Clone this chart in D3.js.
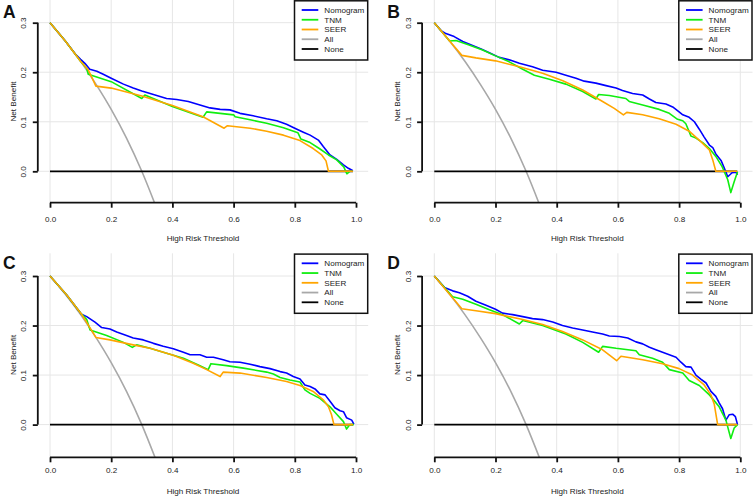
<!DOCTYPE html>
<html><head><meta charset="utf-8">
<script src="https://cdn.jsdelivr.net/npm/d3@7"></script>
<style>
html,body{margin:0;padding:0;background:#fff;}
svg{display:block;font-family:"Liberation Sans",Arial,Helvetica,sans-serif;}
</style></head>
<body><svg id="chart" width="753" height="496"></svg>
<script>
// ---------- data (threshold, net benefit) ----------
const panelLabels = ["A","B","C","D"];
const seriesNames = ["Nomogram","TNM","SEER","All","None"];
const xTicks = [0,0.2,0.4,0.6,0.8,1.0];
const yTicks = [0,0.1,0.2,0.3];

const allCurve = [[0,0.3],[0.05,0.263],[0.1,0.222],[0.15,0.176],[0.2,0.125],[0.25,0.067],[0.3,0.0],[0.35,-0.077]];
const noneCurve = [[0,0],[0.99,0]];

const nomoA = [[0,0.3],[0.05,0.263],[0.085,0.235],[0.1,0.226],[0.114,0.218],[0.13,0.206],[0.153,0.202],[0.174,0.196],[0.2,0.188],[0.24,0.176],[0.272,0.168],[0.3,0.162],[0.338,0.155],[0.381,0.147],[0.414,0.145],[0.452,0.141],[0.49,0.134],[0.523,0.128],[0.556,0.125],[0.588,0.124],[0.621,0.117],[0.664,0.112],[0.708,0.106],[0.741,0.102],[0.773,0.095],[0.8,0.087],[0.828,0.079],[0.85,0.073],[0.877,0.063],[0.893,0.05],[0.915,0.033],[0.937,0.024],[0.959,0.013],[0.975,0.006],[0.99,0.001]];
const tnmA = [[0,0.3],[0.05,0.263],[0.1,0.222],[0.12,0.208],[0.125,0.196],[0.2,0.181],[0.3,0.147],[0.31,0.154],[0.4,0.131],[0.5,0.109],[0.512,0.12],[0.6,0.114],[0.605,0.11],[0.654,0.104],[0.708,0.097],[0.763,0.088],[0.81,0.078],[0.82,0.065],[0.85,0.058],[0.88,0.046],[0.91,0.033],[0.937,0.023],[0.96,0.009],[0.97,-0.005],[0.98,0],[0.99,0]];
const seerA = [[0,0.3],[0.05,0.263],[0.1,0.222],[0.125,0.205],[0.15,0.172],[0.2,0.168],[0.3,0.152],[0.4,0.133],[0.5,0.11],[0.569,0.087],[0.58,0.092],[0.654,0.087],[0.708,0.081],[0.763,0.073],[0.817,0.062],[0.86,0.046],[0.888,0.033],[0.902,0.021],[0.91,0],[0.99,0]];

const nomoB = [[0,0.3],[0.022,0.284],[0.038,0.278],[0.065,0.272],[0.093,0.262],[0.125,0.254],[0.153,0.247],[0.185,0.238],[0.212,0.23],[0.245,0.225],[0.278,0.218],[0.321,0.211],[0.354,0.204],[0.398,0.2],[0.43,0.194],[0.463,0.188],[0.49,0.182],[0.528,0.178],[0.561,0.173],[0.594,0.168],[0.615,0.163],[0.648,0.157],[0.681,0.154],[0.703,0.146],[0.724,0.139],[0.757,0.136],[0.779,0.13],[0.8,0.12],[0.812,0.114],[0.833,0.109],[0.85,0.1],[0.866,0.085],[0.882,0.069],[0.899,0.053],[0.91,0.048],[0.92,0.035],[0.937,0.022],[0.948,0.006],[0.959,-0.011],[0.973,-0.003],[0.986,-0.002],[0.991,-0.007]];
const tnmB = [[0,0.3],[0.05,0.263],[0.071,0.264],[0.109,0.256],[0.158,0.245],[0.2,0.233],[0.245,0.221],[0.289,0.206],[0.327,0.194],[0.376,0.186],[0.43,0.176],[0.485,0.161],[0.528,0.146],[0.537,0.155],[0.572,0.153],[0.626,0.147],[0.637,0.141],[0.681,0.134],[0.735,0.125],[0.768,0.117],[0.795,0.105],[0.812,0.102],[0.822,0.096],[0.839,0.071],[0.855,0.067],[0.877,0.058],[0.899,0.046],[0.92,0.03],[0.941,0.009],[0.959,-0.017],[0.969,-0.043],[0.98,-0.021],[0.991,-0.001]];
const seerB = [[0,0.3],[0.05,0.263],[0.09,0.234],[0.136,0.229],[0.2,0.223],[0.278,0.211],[0.354,0.198],[0.42,0.183],[0.485,0.164],[0.55,0.141],[0.588,0.127],[0.618,0.114],[0.629,0.119],[0.681,0.114],[0.735,0.106],[0.79,0.095],[0.833,0.081],[0.871,0.06],[0.899,0.043],[0.91,0.023],[0.92,0],[0.99,0]];

const nomoC = [[0,0.3],[0.054,0.262],[0.103,0.223],[0.12,0.218],[0.147,0.207],[0.169,0.196],[0.196,0.193],[0.218,0.187],[0.25,0.18],[0.272,0.175],[0.305,0.171],[0.338,0.164],[0.37,0.158],[0.403,0.153],[0.436,0.146],[0.458,0.141],[0.49,0.141],[0.512,0.136],[0.534,0.136],[0.566,0.131],[0.588,0.127],[0.621,0.126],[0.654,0.122],[0.686,0.117],[0.719,0.113],[0.752,0.107],[0.773,0.104],[0.795,0.097],[0.817,0.092],[0.833,0.08],[0.85,0.077],[0.866,0.072],[0.882,0.062],[0.899,0.06],[0.915,0.047],[0.931,0.034],[0.948,0.028],[0.959,0.026],[0.969,0.014],[0.986,0.009],[0.993,0.001]];
const tnmC = [[0,0.3],[0.054,0.262],[0.103,0.223],[0.12,0.212],[0.131,0.191],[0.185,0.18],[0.24,0.166],[0.269,0.156],[0.283,0.161],[0.327,0.154],[0.381,0.144],[0.436,0.134],[0.49,0.119],[0.517,0.111],[0.526,0.123],[0.577,0.119],[0.632,0.114],[0.708,0.106],[0.73,0.102],[0.752,0.095],[0.784,0.09],[0.817,0.086],[0.833,0.07],[0.85,0.063],[0.882,0.053],[0.915,0.036],[0.937,0.021],[0.959,0.006],[0.969,-0.009],[0.98,0],[0.993,0]];
const seerC = [[0,0.3],[0.054,0.262],[0.103,0.223],[0.15,0.176],[0.196,0.171],[0.272,0.161],[0.327,0.154],[0.403,0.14],[0.468,0.124],[0.512,0.111],[0.556,0.097],[0.566,0.106],[0.621,0.104],[0.708,0.095],[0.773,0.087],[0.817,0.079],[0.86,0.067],[0.893,0.05],[0.91,0.036],[0.92,0.02],[0.928,0],[0.99,0]];

const nomoD = [[0,0.3],[0.033,0.277],[0.06,0.27],[0.082,0.266],[0.109,0.259],[0.136,0.249],[0.169,0.241],[0.2,0.233],[0.223,0.225],[0.256,0.222],[0.289,0.218],[0.321,0.214],[0.354,0.212],[0.387,0.207],[0.419,0.2],[0.452,0.195],[0.485,0.191],[0.517,0.187],[0.55,0.183],[0.572,0.179],[0.605,0.178],[0.632,0.175],[0.659,0.167],[0.681,0.163],[0.703,0.156],[0.724,0.151],[0.746,0.146],[0.768,0.141],[0.79,0.136],[0.806,0.126],[0.822,0.117],[0.839,0.116],[0.855,0.1],[0.871,0.092],[0.888,0.084],[0.904,0.067],[0.92,0.057],[0.931,0.044],[0.942,0.032],[0.953,0.009],[0.964,0.02],[0.975,0.021],[0.984,0.016],[0.991,0]];
const tnmD = [[0,0.3],[0.06,0.258],[0.093,0.253],[0.136,0.243],[0.18,0.232],[0.223,0.222],[0.278,0.203],[0.289,0.21],[0.354,0.2],[0.43,0.183],[0.485,0.166],[0.537,0.146],[0.55,0.158],[0.594,0.154],[0.659,0.149],[0.67,0.141],[0.713,0.134],[0.746,0.126],[0.768,0.111],[0.812,0.104],[0.833,0.089],[0.866,0.079],[0.899,0.06],[0.931,0.036],[0.953,0.009],[0.969,-0.028],[0.98,-0.007],[0.991,0]];
const seerD = [[0,0.3],[0.05,0.263],[0.09,0.234],[0.136,0.23],[0.2,0.224],[0.289,0.212],[0.354,0.202],[0.419,0.188],[0.485,0.171],[0.55,0.151],[0.596,0.129],[0.61,0.138],[0.681,0.131],[0.746,0.123],[0.8,0.113],[0.844,0.1],[0.882,0.08],[0.904,0.06],[0.915,0.041],[0.926,0],[0.99,0]];

const panelSeries = [[nomoA,tnmA,seerA],[nomoB,tnmB,seerB],[nomoC,tnmC,seerC],[nomoD,tnmD,seerD]];
const colors = ["#0000FF","#10EE10","#FFA500","#A8A8A8","#000000"];

// ---------- layout ----------
const svg = d3.select("#chart");
const origins = [[0,0],[384.3,0],[0,253.3],[384.3,253.3]];
const rowGeom = [
  {axisY:202.7, tickY:219.3, titleY:238.3, letterY:18.3},
  {axisY:204.0, tickY:216.6, titleY:237.4, letterY:15.3}
];
const xr = [50,356], yr = [171.3,22.7];
const plotL = 37.8, plotR = 368.2;
const fs = 8.1;

panelLabels.forEach((lab,i)=>{
  const [ox,oy] = origins[i];
  const geo = rowGeom[i<2?0:1];
  const g = svg.append("g").attr("transform",`translate(${ox},${oy})`);
  const x = d3.scaleLinear().domain([0,1]).range(xr);
  const y = d3.scaleLinear().domain([0,0.3]).range(yr);

  // grid
  g.append("g").selectAll("line").data(xTicks).join("line")
    .attr("x1",d=>x(d)).attr("x2",d=>x(d)).attr("y1",0).attr("y2",geo.axisY)
    .attr("stroke","#E6E6E6").attr("stroke-width",1);
  g.append("g").selectAll("line").data(yTicks).join("line")
    .attr("x1",plotL).attr("x2",plotR).attr("y1",d=>y(d)).attr("y2",d=>y(d))
    .attr("stroke","#E6E6E6").attr("stroke-width",1);

  // clip
  const cid = "clip"+i;
  g.append("clipPath").attr("id",cid).append("rect")
    .attr("x",plotL).attr("y",0).attr("width",plotR-plotL).attr("height",geo.axisY);

  const line = d3.line().x(d=>x(d[0])).y(d=>y(d[1]));
  const curves = g.append("g").attr("clip-path",`url(#${cid})`);
  curves.append("path").datum(allCurve).attr("d",d3.line().x(d=>x(d[0])).y(d=>y(d[1])).curve(d3.curveMonotoneX))
    .attr("fill","none").attr("stroke",colors[3]).attr("stroke-width",1.6);
  curves.append("path").datum(noneCurve).attr("d",line)
    .attr("fill","none").attr("stroke",colors[4]).attr("stroke-width",1.8);
  [0,1,2].forEach(k=>{
    curves.append("path").datum(panelSeries[i][k]).attr("d",line)
      .attr("fill","none").attr("stroke",colors[k]).attr("stroke-width",1.6)
      .attr("stroke-linejoin","round");
  });

  // x axis
  const xa = g.append("g").attr("transform",`translate(0,${geo.axisY})`)
    .call(d3.axisBottom(x).tickValues(xTicks).tickFormat(d3.format(".1f")).tickSize(5).tickSizeOuter(0));
  xa.select(".domain").attr("stroke","#111").attr("stroke-width",1.8).attr("d",`M${x(0)},0H${x(1)}`);
  xa.selectAll(".tick line").attr("stroke","#111").attr("stroke-width",1.8);
  xa.selectAll(".tick text").attr("font-size",fs).attr("fill","#222").attr("font-family",null)
    .attr("y",geo.tickY-geo.axisY).attr("dy","0.35em");

  // y axis
  const ya = g.append("g").attr("transform",`translate(${plotL},0)`)
    .call(d3.axisLeft(y).tickValues(yTicks).tickFormat(d3.format(".1f")).tickSize(5).tickSizeOuter(0));
  ya.select(".domain").attr("stroke","#111").attr("stroke-width",1.8).attr("d",`M0,${y(0.3)}V${y(0)}`);
  ya.selectAll(".tick line").attr("stroke","#111").attr("stroke-width",1.8);
  ya.selectAll(".tick text").attr("font-size",fs).attr("fill","#222").attr("font-family",null)
    .attr("transform","rotate(-90)").attr("x",0).attr("y",-14.4).attr("dy","0.35em")
    .attr("text-anchor","middle");

  // titles
  g.append("text").attr("x",(x(0)+x(1))/2).attr("y",geo.titleY).attr("dy","0.35em")
    .attr("text-anchor","middle").attr("font-size",fs).attr("fill","#222").text("High Risk Threshold");
  g.append("text").attr("transform",`translate(12.7,101.6) rotate(-90)`)
    .attr("dy","0.35em").attr("text-anchor","middle").attr("font-size",fs).attr("fill","#222").text("Net Benefit");

  // panel letter
  g.append("text").attr("x",3).attr("y",geo.letterY).attr("font-size",17.5).attr("font-weight","bold")
    .attr("fill","#111").text(lab);

  // legend
  const lg = g.append("g");
  lg.append("rect").attr("x",294.5).attr("y",0.8).attr("width",73.2).attr("height",59.2)
    .attr("fill","#fff").attr("stroke","#111").attr("stroke-width",1.5);
  seriesNames.forEach((nm,k)=>{
    const yy = 10 + k*9.75;
    lg.append("line").attr("x1",301.7).attr("x2",318.3).attr("y1",yy).attr("y2",yy)
      .attr("stroke",colors[k]).attr("stroke-width",1.8);
    lg.append("text").attr("x",324.3).attr("y",yy).attr("dy","0.35em")
      .attr("font-size",fs).attr("fill","#222").text(nm);
  });
});
</script></body></html>
